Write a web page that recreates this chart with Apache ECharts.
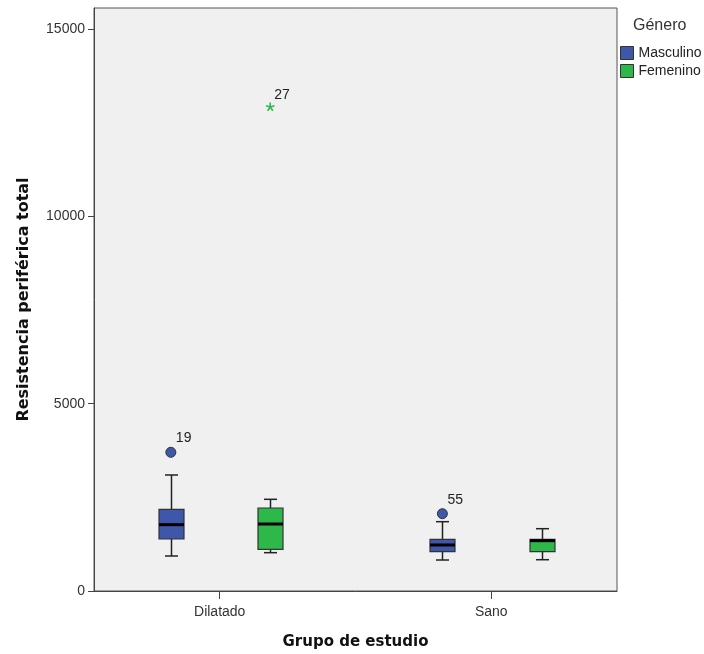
<!DOCTYPE html>
<html>
<head>
<meta charset="utf-8">
<script src="https://cdn.jsdelivr.net/npm/echarts@6/dist/echarts.min.js"></script>
<style>html,body{margin:0;padding:0;background:#fff;}#c{width:704px;height:654px;}</style>
</head>
<body>
<div id="c"></div>
<script>
// ---- data ----
const categories = ['Dilatado', 'Sano'];
const seriesNames = ['Masculino', 'Femenino'];
// [min, Q1, median, Q3, max] per category
const masculinoBox = [[934, 1388, 1770, 2180, 3096], [827, 1050, 1228, 1380, 1850]];
const femeninoBox = [[1023, 1113, 1788, 2215, 2447], [835, 1050, 1343, 1380, 1663]];
// outliers: [categoryIndex, value, caseLabel]
const masculinoOutliers = [[0, 3702, '19'], [1, 2063, '55']];
const femeninoExtremes = [[0, 12917, '27']];
const yTicks = [0, 5000, 10000, 15000];

// ---- styles ----
const colors = ['#3F57AB', '#2FB84A'];
const offsets = [-0.18, 0.186];
const boldFam = '"DejaVu Sans", Verdana, sans-serif';
const fontFam = '"Liberation Sans", Arial, sans-serif';

function boxRender(offset) {
  return function (params, api) {
    const x = api.value(0) + offset;
    const pMin = api.coord([x, api.value(1)]);
    const pQ1 = api.coord([x, api.value(2)]);
    const pMed = api.coord([x, api.value(3)]);
    const pQ3 = api.coord([x, api.value(4)]);
    const pMax = api.coord([x, api.value(5)]);
    const cx = Math.round(pMed[0]) + 0.5;
    const hw = 12.5, cap = 6.5;
    const color = api.visual('color');
    const ls = { stroke: '#222', lineWidth: 1.5 };
    return {
      type: 'group',
      children: [
        { type: 'line', shape: { x1: cx, y1: pQ3[1], x2: cx, y2: pMax[1] }, style: ls },
        { type: 'line', shape: { x1: cx, y1: pQ1[1], x2: cx, y2: pMin[1] }, style: ls },
        { type: 'line', shape: { x1: cx - cap, y1: pMax[1], x2: cx + cap, y2: pMax[1] }, style: ls },
        { type: 'line', shape: { x1: cx - cap, y1: pMin[1], x2: cx + cap, y2: pMin[1] }, style: ls },
        { type: 'rect', shape: { x: cx - hw, y: pQ3[1], width: hw * 2, height: pQ1[1] - pQ3[1] },
          style: { fill: color, stroke: '#333', lineWidth: 1.2 } },
        { type: 'line', shape: { x1: cx - hw, y1: pMed[1], x2: cx + hw, y2: pMed[1] },
          style: { stroke: '#000', lineWidth: 3 } }
      ]
    };
  };
}

function toBoxData(arr) {
  return arr.map((d, i) => [i].concat(d));
}

const chart = echarts.init(document.getElementById('c'), null, { renderer: 'canvas' });
chart.setOption({
  animation: false,
  backgroundColor: '#ffffff',
  textStyle: { fontFamily: fontFam },
  title: {
    text: 'Género', left: 628, top: 13,
    textStyle: { fontSize: 16, fontWeight: 'normal', color: '#333', fontFamily: fontFam }
  },
  legend: {
    orient: 'vertical', left: 615, top: 41, itemWidth: 13, itemHeight: 13, itemGap: 4,
    icon: 'rect',
    data: seriesNames,
    textStyle: { fontSize: 14, color: '#222', fontFamily: fontFam },
    itemStyle: { borderColor: '#333', borderWidth: 1 }
  },
  grid: {
    left: 94, right: 87, top: 8, bottom: 63,
    outerBoundsMode: 'none', containLabel: false,
    show: true, backgroundColor: '#F0F0F0', borderColor: '#555', borderWidth: 1
  },
  xAxis: {
    type: 'value', min: -0.463, max: 1.463,
    name: 'Grupo de estudio', nameLocation: 'middle', nameGap: 44,
    nameTextStyle: { fontSize: 15, fontWeight: 'bold', color: '#111', fontFamily: boldFam },
    axisLine: { show: true, onZero: false, lineStyle: { color: '#444', width: 1 } },
    axisTick: { show: true, customValues: [0, 1], length: 8, inside: false, lineStyle: { color: '#444' } },
    axisLabel: { customValues: [0, 1], formatter: v => categories[Math.round(v)] || '', fontSize: 14, color: '#333', margin: 14, fontFamily: fontFam },
    splitLine: { show: false }
  },
  yAxis: {
    type: 'value', min: 0, max: 15560,
    name: 'Resistencia periférica total', nameLocation: 'middle', nameGap: 62, nameRotate: 90,
    nameTextStyle: { fontSize: 16, fontWeight: 'bold', color: '#111', fontFamily: boldFam },
    axisLine: { show: true, onZero: false, lineStyle: { color: '#444', width: 1 } },
    axisTick: { show: true, customValues: yTicks, length: 6, lineStyle: { color: '#444' } },
    axisLabel: { customValues: yTicks, formatter: v => String(v), fontSize: 14, color: '#333', margin: 9, fontFamily: fontFam },
    splitLine: { show: false }
  },
  series: [
    {
      name: seriesNames[0], type: 'custom', renderItem: boxRender(offsets[0]),
      itemStyle: { color: colors[0] }, encode: { x: 0, y: [1, 2, 3, 4, 5] },
      data: toBoxData(masculinoBox), z: 2
    },
    {
      name: seriesNames[1], type: 'custom', renderItem: boxRender(offsets[1]),
      itemStyle: { color: colors[1] }, encode: { x: 0, y: [1, 2, 3, 4, 5] },
      data: toBoxData(femeninoBox), z: 2
    },
    {
      name: seriesNames[0], type: 'custom',
      itemStyle: { color: colors[0] }, encode: { x: 0, y: 1 },
      data: masculinoOutliers,
      renderItem: function (params, api) {
        const p = api.coord([api.value(0) + offsets[0], api.value(1)]);
        return {
          type: 'group', children: [
            { type: 'circle', shape: { cx: p[0], cy: p[1], r: 5 }, style: { fill: colors[0], stroke: '#333', lineWidth: 1 } },
            { type: 'text', style: { x: p[0] + 5, y: p[1] - 7, text: masculinoOutliers[params.dataIndex][2], fill: '#222', font: '14px ' + fontFam, textVerticalAlign: 'bottom' } }
          ]
        };
      }, z: 3
    },
    {
      name: seriesNames[1], type: 'custom',
      itemStyle: { color: colors[1] }, encode: { x: 0, y: 1 },
      data: femeninoExtremes,
      renderItem: function (params, api) {
        const p = api.coord([api.value(0) + offsets[1], api.value(1)]);
        const r = 4.5, s = { stroke: colors[1], lineWidth: 1.6 };
        const kids = [];
        for (let k = 0; k < 5; k++) {
          const a = -Math.PI / 2 + k * 2 * Math.PI / 5;
          kids.push({ type: 'line', shape: { x1: p[0], y1: p[1], x2: p[0] + r * Math.cos(a), y2: p[1] + r * Math.sin(a) }, style: s });
        }
        kids.push({ type: 'text', style: { x: p[0] + 4, y: p[1] - 5, text: femeninoExtremes[params.dataIndex][2], fill: '#222', font: '14px ' + fontFam, textVerticalAlign: 'bottom' } });
        return { type: 'group', children: kids };
      }, z: 3
    }
  ]
});
</script>
</body>
</html>
